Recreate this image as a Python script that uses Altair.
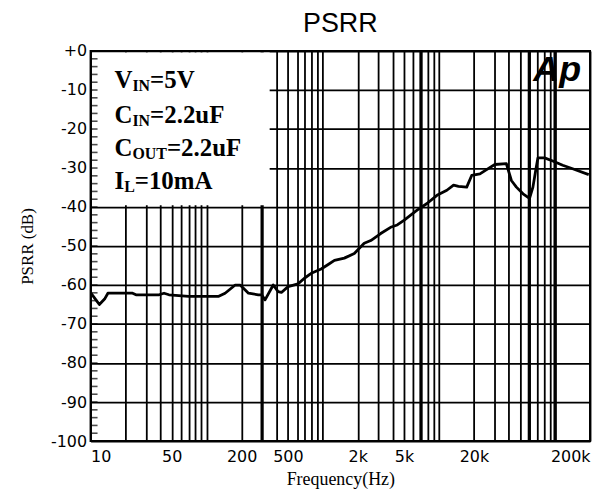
import altair as alt
import pandas as pd

# ---- data ----
freq_hz = [10.1, 10.8, 11.9, 13.2, 14.1, 23, 24.6, 38.9, 42.9, 47.3, 70, 127, 144, 176, 194, 229, 278, 297,
           318, 374, 412, 440, 502, 611, 698, 795, 967, 1104, 1259, 1532, 1866, 2271, 2588, 3150, 3834, 4375,
           4992, 6486, 7889, 9611, 11700, 13360, 14730, 17340, 19140, 22550, 25720, 30270, 38100, 42060,
           46450, 52970, 60290, 64450, 68840, 71150, 81100, 95550, 116300, 141700, 195000]
psrr_db = [-62.1, -63.3, -65.0, -63.6, -62.1, -62.1, -62.5, -62.5, -62.1, -62.5, -62.9, -62.9, -62.1, -60.0,
           -60.0, -62.1, -62.5, -62.5, -63.8, -60.0, -61.7, -61.9, -60.4, -59.7, -58.2, -57.0, -55.9, -54.8,
           -53.7, -53.1, -51.9, -49.3, -48.6, -46.8, -45.2, -44.6, -43.4, -40.8, -39.1, -37.0, -35.7, -34.4,
           -34.7, -34.9, -31.9, -31.5, -30.4, -29.1, -28.9, -33.2, -34.9, -36.6, -37.8, -34.9, -29.8, -27.4,
           -27.4, -28.2, -29.3, -30.2, -31.7]

x_grid = [m * 10 ** e for e in range(1, 6) for m in range(1, 10) if m * 10 ** e <= 200000]
x_labels = [10, 50, 200, 500, 2000, 5000, 20000, 200000]
y_ticks = list(range(0, -101, -10))
y_minor = list(range(0, -101, -2))
heavy_grid = [300, 7000, 60000, 100000]

note_main = ["V", "C", "C", "I"]
note_sub = ["IN", "IN", "OUT", "L"]
note_rest = ["=5V", "=2.2uF", "=2.2uF", "=10mA"]

# ---- chart ----
df = pd.DataFrame({"f": freq_hz, "db": psrr_db})
one = pd.DataFrame({"a": [0]})

xs = alt.Scale(type="log", domain=[10, 200000], nice=False)
ys = alt.Scale(domain=[-100, 0], nice=False)

label_list = "[" + ",".join(str(v) for v in x_labels) + "]"
x_axis = alt.Axis(
    values=x_grid, grid=True, gridColor="black", gridWidth=1.8, gridOpacity=1,
    ticks=False, domain=False,
    labelExpr=f"indexof({label_list}, datum.value) >= 0 ? (datum.value >= 1000 ? (datum.value/1000) + 'k' : '' + datum.value) : ''",
    labelFlush=True, labelOverlap=False, labelFont="DejaVu Sans", labelFontSize=16,
    labelColor="black", labelPadding=8,
    title="Frequency(Hz)", titleFont="Liberation Serif", titleFontSize=18,
    titleFontWeight="normal", titleColor="black", titlePadding=6,
)
y_axis = alt.Axis(
    values=y_ticks, grid=True, gridColor="black", gridWidth=1.8, gridOpacity=1,
    ticks=False, domain=False,
    labelExpr="datum.value == 0 ? '+0' : '' + datum.value",
    labelFont="DejaVu Sans", labelFontSize=16, labelColor="black", labelPadding=4,
    title="PSRR (dB)", titleFont="Liberation Serif", titleFontSize=17,
    titleFontWeight="normal", titleColor="black", titlePadding=14,
)

heavy = alt.Chart(pd.DataFrame({"f": heavy_grid})).mark_rule(color="black", strokeWidth=3.2).encode(
    x=alt.X("f:Q", scale=xs, axis=x_axis)
)

box = alt.Chart(one).mark_rect(color="white").encode(
    x=alt.value(1.5), x2=alt.value(180), y=alt.value(1.5), y2=alt.value(155)
)

minor = alt.Chart(pd.DataFrame({"v": y_minor})).mark_tick(
    color="black", thickness=1.6, size=7, orient="horizontal"
).encode(y=alt.Y("v:Q", scale=ys, axis=y_axis), x=alt.value(3.5))

# widths (Times bold metrics) for composing subscripts
cw = {"V": 0.722, "C": 0.722, "I": 0.389, "N": 0.722, "O": 0.778, "U": 0.722, "T": 0.667, "L": 0.667}
main_size, sub_size = 25, 16
texts = []
base_y = [37, 72, 106, 139]
for i in range(4):
    x0 = 24
    texts.append(alt.Chart(one).mark_text(
        text=note_main[i], font="Liberation Serif", fontWeight="bold", fontSize=main_size,
        align="left", baseline="alphabetic", color="black").encode(x=alt.value(x0), y=alt.value(base_y[i])))
    x1 = x0 + sum(cw[c] for c in note_main[i]) * main_size
    texts.append(alt.Chart(one).mark_text(
        text=note_sub[i], font="Liberation Serif", fontWeight="bold", fontSize=sub_size,
        align="left", baseline="alphabetic", color="black").encode(x=alt.value(x1), y=alt.value(base_y[i] + 3)))
    x2 = x1 + sum(cw[c] for c in note_sub[i]) * sub_size
    texts.append(alt.Chart(one).mark_text(
        text=note_rest[i], font="Liberation Serif", fontWeight="bold", fontSize=main_size,
        align="left", baseline="alphabetic", color="black").encode(x=alt.value(x2), y=alt.value(base_y[i])))

logo = alt.Chart(one).mark_text(
    text="Ap", font="Liberation Sans", fontWeight="bold", fontStyle="italic", fontSize=36,
    align="left", baseline="alphabetic", color="black"
).encode(x=alt.value(445), y=alt.value(30))

line = alt.Chart(df).mark_line(color="black", strokeWidth=2.8, strokeJoin="round").encode(
    x=alt.X("f:Q", scale=xs, axis=x_axis),
    y=alt.Y("db:Q", scale=ys, axis=y_axis),
)

chart = alt.layer(heavy, box, minor, *texts, logo, line).properties(
    width=502, height=392,
    background="white",
    autosize=alt.AutoSizeParams(type="none"),
    padding={"left": 83, "top": 42, "right": 5, "bottom": 52},
    title=alt.TitleParams("PSRR", font="Liberation Sans", fontSize=27, fontWeight="normal",
                          color="black", anchor="middle", frame="group", offset=5),
).configure_view(stroke="black", strokeWidth=2)

chart.save("out.html", embed_options={"renderer": "svg", "actions": False})
